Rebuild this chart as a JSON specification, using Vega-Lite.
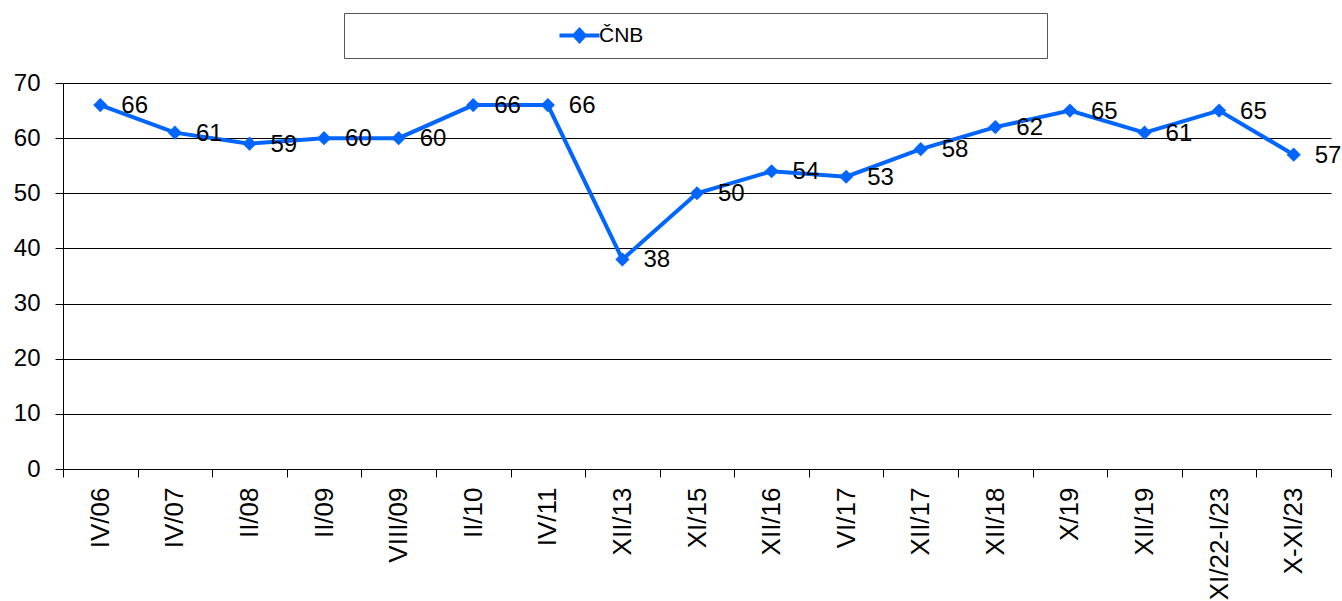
{
  "$schema": "https://vega.github.io/schema/vega-lite/v6.json",
  "width": 1268,
  "height": 386,
  "autosize": {"type": "none"},
  "padding": {"left": 63, "top": 83, "right": 11, "bottom": 132},
  "config": {
    "font": "Liberation Sans",
    "view": {"stroke": null}
  },
  "data": {
    "values": [
      {"period": "IV/06", "value": 66},
      {"period": "IV/07", "value": 61},
      {"period": "II/08", "value": 59},
      {"period": "II/09", "value": 60},
      {"period": "VIII/09", "value": 60},
      {"period": "II/10", "value": 66},
      {"period": "IV/11", "value": 66},
      {"period": "XII/13", "value": 38},
      {"period": "XI/15", "value": 50},
      {"period": "XII/16", "value": 54},
      {"period": "VI/17", "value": 53},
      {"period": "XII/17", "value": 58},
      {"period": "XII/18", "value": 62},
      {"period": "X/19", "value": 65},
      {"period": "XII/19", "value": 61},
      {"period": "XI/22-I/23", "value": 65},
      {"period": "X-XI/23", "value": 57}
    ]
  },
  "encoding": {
    "x": {
      "field": "period",
      "type": "ordinal",
      "sort": null,
      "bandPosition": 0.5,
      "scale": {"type": "band", "paddingInner": 0, "paddingOuter": 0},
      "axis": {
        "title": null,
        "labelAngle": -90,
        "labelFontSize": 26,
        "labelColor": "#000",
        "tickBand": "extent",
        "tickSize": 8,
        "tickColor": "#000",
        "domainColor": "#000",
        "labelPadding": 10,
        "grid": false
      }
    },
    "y": {
      "field": "value",
      "type": "quantitative",
      "scale": {"domain": [0, 70], "nice": false},
      "axis": {
        "title": null,
        "values": [0, 10, 20, 30, 40, 50, 60, 70],
        "labelFontSize": 24,
        "labelColor": "#000",
        "tickSize": 8,
        "tickColor": "#000",
        "domainColor": "#000",
        "gridColor": "#000",
        "gridOpacity": 1,
        "labelPadding": 15
      }
    }
  },
  "layer": [
    {
      "mark": {"type": "line", "strokeWidth": 4},
      "encoding": {
        "color": {
          "datum": "ČNB",
          "scale": {"range": ["#0066ff"]},
          "legend": {
            "orient": "none",
            "legendX": 281,
            "legendY": -70,
            "title": "\u00a0",
            "titleOrient": "left",
            "titlePadding": 213,
            "titleFontSize": 21,
            "padding": 12,
            "strokeColor": "#555",
            "symbolType": "M-2,-0.2H-0.6L0,-0.85L0.6,-0.2H2V0.2H0.6L0,0.85L-0.6,0.2H-2Z",
            "symbolSize": 400,
            "labelFontSize": 21,
            "labelColor": "#000",
            "labelOffset": 9,
            "labelExpr": "datum.label + '\u00a0\u00a0\u00a0\u00a0\u00a0\u00a0\u00a0\u00a0\u00a0\u00a0\u00a0\u00a0\u00a0\u00a0\u00a0\u00a0\u00a0\u00a0\u00a0\u00a0\u00a0\u00a0\u00a0\u00a0\u00a0\u00a0\u00a0\u00a0\u00a0\u00a0\u00a0\u00a0\u00a0\u00a0\u00a0\u00a0\u00a0\u00a0\u00a0\u00a0\u00a0\u00a0\u00a0\u00a0\u00a0\u00a0\u00a0\u00a0\u00a0\u00a0\u00a0\u00a0\u00a0\u00a0\u00a0\u00a0\u00a0\u00a0\u00a0\u00a0\u00a0\u00a0\u00a0\u00a0\u00a0\u00a0\u00a0\u200b'",
            "labelLimit": 0,
            "encode": {
              "symbols": {
                "update": {
                  "fill": {"value": "#0066ff"},
                  "stroke": {"value": "transparent"},
                  "strokeWidth": {"value": 0},
                  "opacity": {"value": 1}
                }
              }
            }
          }
        }
      }
    },
    {
      "mark": {"type": "point", "shape": "diamond", "filled": true, "size": 200, "color": "#0066ff", "opacity": 1}
    },
    {
      "mark": {"type": "text", "align": "left", "baseline": "middle", "dx": 21, "dy": 1, "fontSize": 24, "color": "#000"},
      "encoding": {"text": {"field": "value", "type": "quantitative"}}
    }
  ]
}
